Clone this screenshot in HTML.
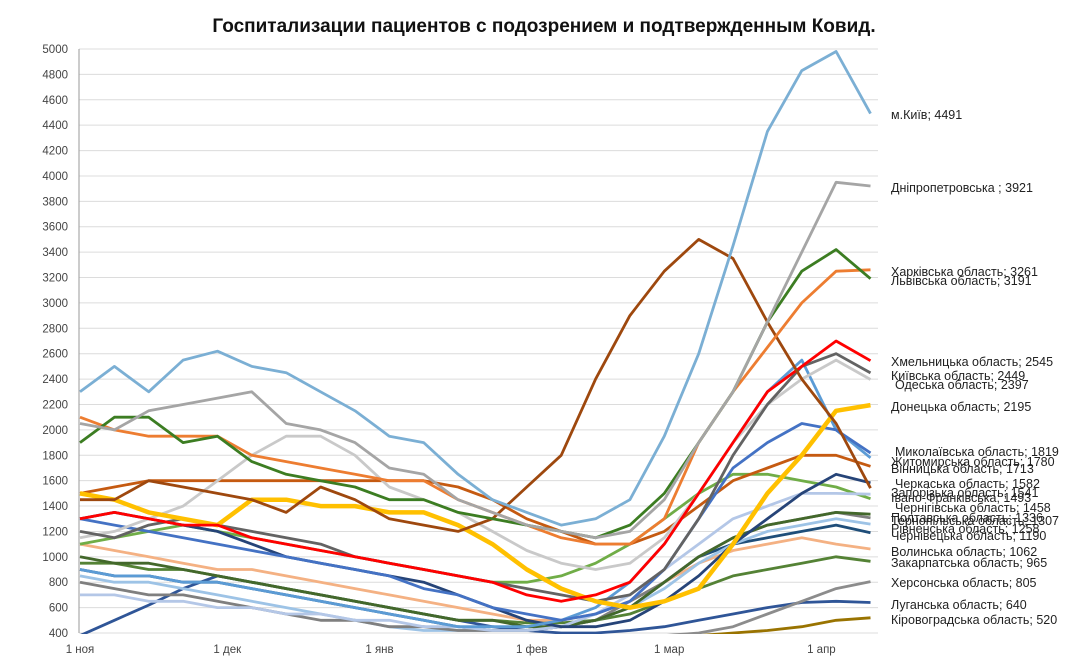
<!DOCTYPE html>
<html><head><meta charset="utf-8">
<style>
body{margin:0;background:#fff;width:1088px;height:667px;overflow:hidden;font-family:"Liberation Sans",sans-serif}
svg text{font-family:"Liberation Sans","DejaVu Sans",sans-serif}
</style></head>
<body>
<svg id="chart" width="1088" height="667" xmlns="http://www.w3.org/2000/svg">
<text x="544" y="32" text-anchor="middle" font-size="19" font-weight="bold" fill="#111">Госпитализации пациентов с подозрением и подтвержденным Ковид.</text>
<defs><clipPath id="plotclip"><rect x="79" y="46" width="800" height="588"/></clipPath></defs>
<g id="grid"></g>
<g id="yticks"></g>
<g id="xticks"></g>
<g id="lines" clip-path="url(#plotclip)"></g>
<g id="labels"></g>
<line x1="79" y1="49" x2="79" y2="633" stroke="#999" stroke-width="1"/>
</svg>
<script>
const yTicks=[400,600,800,1000,1200,1400,1600,1800,2000,2200,2400,2600,2800,3000,3200,3400,3600,3800,4000,4200,4400,4600,4800,5000];
const xTickLabels=["1 ноя","1 дек","1 янв","1 фев","1 мар","1 апр"];
const xTickDays=[0,30,61,92,120,151];
const weekDays=[0,7,14,21,28,35,42,49,56,63,70,77,84,91,98,105,112,119,126,133,140,147,154,161];
const seriesColors=["#7BAFD4","#A5A5A5","#3C7D22","#ED7D31","#9E480E","#FF0000","#FFC000","#636363","#C9C9C9","#4472C4","#5B9BD5","#C55A11","#264478","#B4C7E7","#70AD47","#43682B","#7F7F7F","#9DC3E6","#1F4E79","#F4B183","#548235","#8C8C8C","#2F5597","#997300"];
const s0=[2300,2500,2300,2550,2620,2500,2450,2300,2150,1950,1900,1650,1450,1350,1250,1300,1450,1950,2600,3450,4350,4830,4980,4491];
const s1=[2050,2000,2150,2200,2250,2300,2050,2000,1900,1700,1650,1450,1350,1250,1200,1150,1200,1450,1900,2300,2850,3400,3950,3921];
const s2=[1900,2100,2100,1900,1950,1750,1650,1600,1550,1450,1450,1350,1300,1250,1200,1150,1250,1500,1900,2300,2850,3250,3420,3191];
const s3=[2100,2000,1950,1950,1950,1800,1750,1700,1650,1600,1600,1450,1350,1250,1150,1100,1100,1300,1900,2300,2650,3000,3250,3261];
const s4=[1450,1450,1600,1550,1500,1450,1350,1550,1450,1300,1250,1200,1300,1550,1800,2400,2900,3250,3500,3350,2850,2400,2050,1541];
const s5=[1300,1350,1300,1250,1250,1150,1100,1050,1000,950,900,850,800,700,650,700,800,1100,1500,1900,2300,2500,2700,2545];
const s6=[1500,1450,1350,1300,1250,1450,1450,1400,1400,1350,1350,1250,1100,900,750,650,600,650,750,1100,1500,1800,2150,2195];
const s7=[1200,1150,1250,1300,1250,1200,1150,1100,1000,950,900,850,800,750,700,650,700,900,1300,1800,2200,2500,2600,2449];
const s8=[1150,1200,1300,1400,1600,1800,1950,1950,1800,1550,1450,1350,1200,1050,950,900,950,1150,1500,1900,2200,2400,2550,2397];
const s9=[1300,1250,1200,1150,1100,1050,1000,950,900,850,750,700,600,550,500,550,650,900,1300,1700,1900,2050,2000,1819];
const s10=[900,850,850,800,800,750,700,650,600,550,500,450,450,450,500,600,800,1100,1500,1900,2300,2550,2000,1780];
const s11=[1500,1550,1600,1600,1600,1600,1600,1600,1600,1600,1600,1550,1450,1300,1200,1100,1100,1200,1400,1600,1700,1800,1800,1713];
const s12=[1300,1350,1300,1250,1200,1100,1000,950,900,850,800,700,600,500,450,450,500,650,850,1100,1300,1500,1650,1582];
const s13=[700,700,650,650,600,600,550,550,500,500,450,450,420,420,450,550,700,900,1100,1300,1400,1500,1500,1493];
const s14=[1100,1150,1200,1250,1200,1150,1100,1050,1000,950,900,850,800,800,850,950,1100,1300,1500,1650,1650,1600,1550,1458];
const s15=[1000,950,950,900,850,800,750,700,650,600,550,500,500,450,450,500,600,800,1000,1150,1250,1300,1350,1336];
const s16=[800,750,700,700,650,600,550,500,500,450,450,420,420,420,450,500,650,800,1000,1150,1250,1300,1350,1307];
const s17=[850,800,800,750,700,650,600,550,500,450,420,420,420,420,450,500,600,750,950,1100,1200,1250,1300,1258];
const s18=[900,850,850,800,800,750,700,650,600,550,500,450,420,420,450,500,600,800,1000,1100,1150,1200,1250,1190];
const s19=[1100,1050,1000,950,900,900,850,800,750,700,650,600,550,500,500,550,650,800,950,1050,1100,1150,1100,1062];
const s20=[950,950,900,900,850,800,750,700,650,600,550,500,500,480,480,500,550,650,750,850,900,950,1000,965];
const s21=[380,380,380,380,380,380,380,380,380,380,380,380,380,380,380,380,380,380,400,450,550,650,750,805];
const s22=[380,500,620,750,850,800,750,700,650,600,550,500,450,420,400,400,420,450,500,550,600,640,650,640];
const s23=[370,370,370,370,370,370,370,370,370,370,370,370,370,370,370,370,370,370,380,400,420,450,500,520];
const seriesData=[s0,s1,s2,s3,s4,s5,s6,s7,s8,s9,s10,s11,s12,s13,s14,s15,s16,s17,s18,s19,s20,s21,s22,s23];
const labelText=["м.Київ; 4491","Дніпропетровська ; 3921","Харківська область; 3261","Львівська область; 3191","Хмельницька область; 2545","Київська область; 2449","Одеська область; 2397","Донецька область; 2195","Миколаївська область; 1819","Житомирська область; 1780","Вінницька область; 1713","Черкаська область; 1582","Запорізька область; 1541","Івано-Франківська; 1493","Чернігівська область; 1458","Полтавська область; 1336","Тернопільська область; 1307","Рівненська область; 1258","Чернівецька область; 1190","Волинська область; 1062","Закарпатська область; 965","Херсонська область; 805","Луганська область; 640","Кіровоградська область; 520"];
const labelY=[119,192,276,285,366,380,389,411,456,466,473,488,497,502,512,522,525,533,540,556,567,587,609,624];
const labelX=[891,891,891,891,891,891,895,891,895,891,891,895,891,891,895,891,891,891,891,891,891,891,891,891];

const NS="http://www.w3.org/2000/svg";
function xScale(d){return 80+d*4.91;}
function yScale(v){return 49+(5000-v)*0.12696;}
function mk(t,a,p){const e=document.createElementNS(NS,t);for(const k in a)e.setAttribute(k,a[k]);p.appendChild(e);return e;}
const grid=document.getElementById('grid'),yt=document.getElementById('yticks'),xt=document.getElementById('xticks');
yTicks.forEach(v=>{
  const l=mk('line',{x1:79,x2:878,y1:yScale(v),y2:yScale(v),stroke:'#dcdcdc','stroke-width':1},grid);
  
  
  const t=mk('text',{x:68,y:yScale(v)+4,'text-anchor':'end','font-size':11.5,fill:'#444'},yt);
  t.textContent=v;
  
  
});
xTickLabels.forEach((s,i)=>{
  const t=mk('text',{x:xScale(xTickDays[i]),y:653,'text-anchor':'middle','font-size':11.5,fill:'#444'},xt);
  t.textContent=s;
  
  
});
const lines=document.getElementById('lines');
for(let k=seriesData.length-1;k>=0;k--){
  const d=seriesData[k].map((v,i)=>(i?'L':'M')+xScale(weekDays[i]).toFixed(1)+' '+yScale(v).toFixed(1)).join(' ');
  const p=mk('path',{d:d,fill:'none',stroke:seriesColors[k],'stroke-width':k==6?4.5:2.8,'stroke-linejoin':'round'},lines);
  
  
}
const lab=document.getElementById('labels');
labelText.forEach((s,i)=>{
  const t=mk('text',{x:labelX[i],y:labelY[i],'font-size':12.5,fill:'#222'},lab);
  t.textContent=s;
  
  
});
</script>
</body></html>
